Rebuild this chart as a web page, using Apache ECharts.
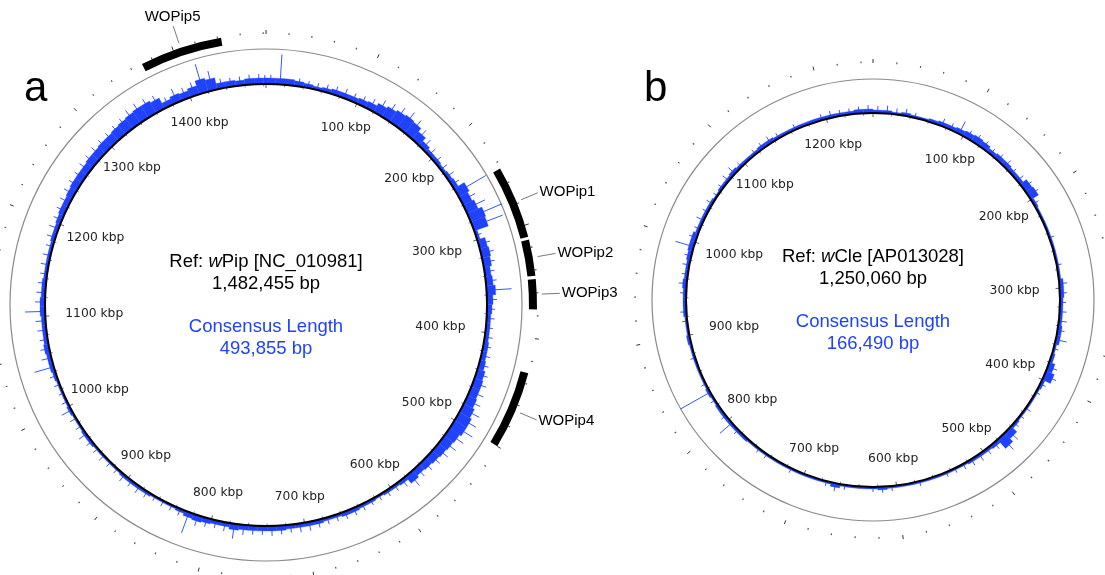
<!DOCTYPE html>
<html>
<head>
<meta charset="utf-8">
<script src="https://cdn.jsdelivr.net/npm/echarts@6/dist/echarts.min.js"></script>
<style>
html,body{margin:0;padding:0;background:#fff;}
#chart{width:1105px;height:575px;}
</style>
</head>
<body>
<div id="chart"></div>
<script>
// ---------------- DATA ----------------
const genomeLenA = 1482455;   // wPip [NC_010981]
const genomeLenB = 1250060;   // wCle [AP013028]
const binBp = 10000;          // coverage bin size (bp)

// coverage (fill level) and peak per 10 kbp bin, panel a (wPip)
const coverageA = [
  6,6,6,5,4,3,4,5,5,5,
  6,7,10,12,14,15,14,10,6,4,
  4,3,4,5,12,10,12,16,15,3,
  8,9,8,6,7,9,6,5,4,4,
  4,5,5,6,8,9,9,10,12,14,
  14,12,11,10,9,8,7,9,4,3,
  3,2,3,3,4,4,3,3,4,4,
  4,4,5,5,5,5,5,6,4,4,
  5,6,5,3,2,2,2,3,3,3,
  3,2,2,2,2,3,3,2,2,3,
  2,2,2,3,4,4,5,4,4,4,
  5,5,4,4,3,3,3,3,4,4,
  5,6,6,7,8,8,8,9,9,10,
  10,11,12,13,14,14,12,6,8,7,
  9,14,12,6,6,5,6,6,6
];
const peakA = [
  9,30,8,8,7,7,8,9,10,9,
  10,12,16,18,20,22,20,16,12,9,
  8,8,9,9,34,16,22,36,32,6,
  12,13,12,10,11,25,10,8,8,7,
  8,8,9,10,12,14,15,16,20,22,
  24,20,18,16,14,13,12,16,9,7,
  7,6,6,7,8,8,7,7,8,9,
  9,8,9,10,9,9,10,15,9,8,
  9,11,22,7,6,6,5,7,8,7,
  8,6,6,7,6,7,9,6,7,11,
  6,5,6,7,20,10,9,8,9,10,
  20,10,9,8,7,8,8,7,9,10,
  9,10,11,12,12,12,13,13,14,14,
  14,15,16,19,20,19,17,10,15,12,
  14,30,20,10,9,9,10,10,9
];

// coverage (fill level) and peak per 10 kbp bin, panel b (wCle)
const coverageB = [
  3,3,2,3,2,2,3,4,4,5,
  6,7,6,4,5,5,4,4,8,9,
  3,2,2,2,2,2,2,2,2,4,
  4,3,3,3,4,4,2,3,6,9,
  3,2,2,2,2,3,8,12,4,3,
  3,3,2,2,2,2,2,2,2,2,
  2,3,2,2,2,2,4,2,2,2,
  2,2,2,2,2,2,2,3,3,3,
  3,3,2,3,2,2,2,2,2,3,
  2,2,3,3,3,4,3,3,4,5,
  5,3,3,3,3,2,3,3,4,3,
  3,3,4,4,3,3,3,3,3,3,
  3,3,3,4,4
];
const peakB = [
  7,8,6,7,5,4,5,8,7,14,
  9,10,9,7,8,9,7,8,11,12,
  6,4,4,4,5,4,4,5,4,8,
  7,6,7,8,7,11,5,5,10,13,
  6,5,4,6,5,6,14,18,8,7,
  8,7,6,5,5,4,4,5,4,4,
  5,6,5,4,4,5,8,5,4,4,
  4,5,4,4,5,5,4,5,6,16,
  6,5,5,34,5,4,4,5,4,5,
  4,5,6,5,6,8,6,7,7,19,
  8,6,8,6,7,5,6,8,9,6,
  5,6,7,8,6,5,6,5,5,6,
  7,6,6,7,8
];

// backbone tick labels (kbp)
const tickKbpA = [100,200,300,400,500,600,700,800,900,1000,1100,1200,1300,1400];
const tickKbpB = [100,200,300,400,500,600,700,800,900,1000,1100,1200];

// prophage regions on wPip (bp)
const prophageNames = ['WOPip1','WOPip2','WOPip3','WOPip4','WOPip5'];
const prophageStart = [246000, 313000, 348000, 430700, 1370300];
const prophageEnd   = [310500, 345000, 374500, 500000, 1443100];

// centre texts
const refA = {pre:'Ref: ', it:'w', post:'Pip [NC_010981]', size:'1,482,455 bp', cons:'493,855 bp'};
const refB = {pre:'Ref: ', it:'w', post:'Cle [AP013028]', size:'1,250,060 bp', cons:'166,490 bp'};

// ---------------- STYLE / LAYOUT ----------------
const BLUE = '#1f42ff';
const centerA = [266, 305], centerB = [873, 300];
const TICK_FONT = '12.3px "DejaVu Sans"';
const SANS = '"Liberation Sans", Arial, sans-serif';

const mctx = document.createElement('canvas').getContext('2d');
function textWidth(t, font){ mctx.font = font; return mctx.measureText(t).width; }

function angOf(cs, p){ return Math.atan2(p[1]-cs.cy, p[0]-cs.cx); }
function distOf(cs, p){ return Math.hypot(p[0]-cs.cx, p[1]-cs.cy); }

function coverageItem(params, api){
  const cs = params.coordSys;
  const fill = api.value(0), s = api.value(1), e = api.value(2), pk = api.value(3);
  const ps = api.coord([0, s]), pe = api.coord([0, e]);
  const a0 = angOf(cs, ps); let a1 = angOf(cs, pe);
  if (a1 < a0) a1 += Math.PI*2;
  const rf = distOf(cs, api.coord([fill, s]));
  const mid = (s+e)/2;
  const m0 = api.coord([0, mid]), m1 = api.coord([pk, mid]);
  const children = [
    {type:'sector', shape:{cx:cs.cx, cy:cs.cy, r0:cs.r0, r:rf, startAngle:a0, endAngle:a1, clockwise:true},
     style:{fill:BLUE, stroke:BLUE, lineWidth:0.3}}
  ];
  if (pk > fill + 2){
    children.push({type:'line', shape:{x1:m0[0], y1:m0[1], x2:m1[0], y2:m1[1]}, style:{stroke:BLUE, lineWidth:0.9}});
  }
  return {type:'group', children:children};
}

function tickLabelItem(params, api){
  const cs = params.coordSys;
  const v = api.value(1);
  const p = api.coord([1, v]);
  const dx = p[0]-cs.cx, dy = p[1]-cs.cy, r = Math.hypot(dx, dy);
  const ux = dx/r, uy = dy/r;
  const text = (v/1000) + ' kbp';
  const hw = textWidth(text, TICK_FONT)/2, hh = 6.5;
  const t = Math.min(Math.abs(ux) > 1e-6 ? hw/Math.abs(ux) : 1e9, Math.abs(uy) > 1e-6 ? hh/Math.abs(uy) : 1e9);
  const rc = r - 20 - t;
  return {type:'text', x: cs.cx + ux*rc, y: cs.cy + uy*rc,
    style:{text:text, fill:'#222', font:TICK_FONT, align:'center', verticalAlign:'middle'}};
}

function prophageItem(params, api){
  const cs = params.coordSys;
  const s = api.value(1), e = api.value(2);
  const ps = api.coord([0, s]), pe = api.coord([0, e]);
  const a0 = angOf(cs, ps); let a1 = angOf(cs, pe);
  if (a1 < a0) a1 += Math.PI*2;
  const pm = api.coord([1, (s+e)/2]);
  const dx = pm[0]-cs.cx, dy = pm[1]-cs.cy, r = Math.hypot(dx, dy);
  const ux = dx/r, uy = dy/r;
  const r1 = cs.r + 5, r2 = cs.r + 23;
  let align, valign, off = 2;
  if (Math.abs(ux) > 0.5){ align = ux > 0 ? 'left' : 'right'; valign = 'middle'; }
  else { align = 'center'; valign = uy < 0 ? 'bottom' : 'top'; }
  return {type:'group', children:[
    {type:'sector', shape:{cx:cs.cx, cy:cs.cy, r0:cs.r0, r:cs.r, startAngle:a0, endAngle:a1, clockwise:true},
     style:{fill:'#000'}},
    {type:'line', shape:{x1:cs.cx+ux*r1, y1:cs.cy+uy*r1, x2:cs.cx+ux*r2, y2:cs.cy+uy*r2},
     style:{stroke:'#555', lineWidth:0.8}},
    {type:'text', x:cs.cx+ux*(r2+off), y:cs.cy+uy*(r2+off),
     style:{text:prophageNames[params.dataIndex], fill:'#000', font:'15px '+SANS, align:align, verticalAlign:valign}}
  ]};
}

// ---------------- BUILD ----------------
function bins(cov, peak, len){
  return cov.map((f, i) => [f, i*binBp, Math.min((i+1)*binBp, len), peak[i]]);
}

const polars = [
  {center:centerA, radius:221},          // 0 backbone a
  {center:centerA, radius:[221, 301]},   // 1 coverage a
  {center:centerA, radius:256},          // 2 grey ring a
  {center:centerA, radius:[263, 271]},   // 3 prophage arcs a
  {center:centerA, radius:271},          // 4 outer ruler a
  {center:centerB, radius:187},          // 5 backbone b
  {center:centerB, radius:[187, 267]},   // 6 coverage b
  {center:centerB, radius:221},          // 7 grey ring b
  {center:centerB, radius:237}           // 8 outer ruler b
];
const lens = [genomeLenA,genomeLenA,genomeLenA,genomeLenA,genomeLenA,genomeLenB,genomeLenB,genomeLenB,genomeLenB];
const radMax = [1, 80, 1, 1, 1, 1, 80, 1, 1];

function baseAngle(i){
  return {polarIndex:i, type:'value', min:0, max:lens[i], startAngle:90, clockwise:true, interval:100000,
    axisLine:{show:false}, axisTick:{show:false}, axisLabel:{show:false}, splitLine:{show:false},
    minorTick:{show:false}, minorSplitLine:{show:false}, silent:true};
}
const angleAxes = polars.map((p, i) => {
  const a = baseAngle(i);
  if (i === 0 || i === 5){
    a.z = 5;
    a.axisLine = {show:true, lineStyle:{color:'#000', width:2}};
    a.axisTick = {show:true, inside:false, length:-4, lineStyle:{color:'#333', width:0.8}};
    a.minorTick = {show:true, splitNumber:5, length:-2.5, lineStyle:{color:'#555', width:0.7}};
  } else if (i === 2 || i === 7){
    a.axisLine = {show:true, lineStyle:{color:'#8a8a8a', width:1.2}};
  } else if (i === 4 || i === 8){
    a.axisTick = {show:true, length:4, lineStyle:{color:'#333', width:1}};
    a.minorTick = {show:true, splitNumber:5, length:1.8, lineStyle:{color:'#555', width:1.2}};
  }
  return a;
});
const radiusAxes = polars.map((p, i) => ({polarIndex:i, type:'value', min:0, max:radMax[i], show:false,
  axisLine:{show:false}, axisTick:{show:false}, axisLabel:{show:false}, splitLine:{show:false}}));

const series = [
  {type:'custom', coordinateSystem:'polar', polarIndex:1, renderItem:coverageItem, data:bins(coverageA, peakA, genomeLenA), silent:true},
  {type:'custom', coordinateSystem:'polar', polarIndex:6, renderItem:coverageItem, data:bins(coverageB, peakB, genomeLenB), silent:true},
  {type:'custom', coordinateSystem:'polar', polarIndex:0, renderItem:tickLabelItem, data:tickKbpA.map(k => [1, k*1000]), silent:true},
  {type:'custom', coordinateSystem:'polar', polarIndex:5, renderItem:tickLabelItem, data:tickKbpB.map(k => [1, k*1000]), silent:true},
  {type:'custom', coordinateSystem:'polar', polarIndex:3, renderItem:prophageItem,
   data:prophageStart.map((s, i) => [0, s, prophageEnd[i]]), silent:true}
];

function centreTexts(c, ref){
  const f = 18.5;
  const rich = {
    n:{fontSize:f, fontFamily:SANS, fill:'#000'},
    i:{fontSize:f, fontFamily:SANS, fontStyle:'italic', fill:'#000'}
  };
  return [
    {type:'text', x:c[0], y:c[1]-43, style:{text:'{n|'+ref.pre+'}{i|'+ref.it+'}{n|'+ref.post+'}', rich:rich, align:'center', verticalAlign:'middle'}},
    {type:'text', x:c[0], y:c[1]-21, style:{text:ref.size, font:f+'px '+SANS, fill:'#000', align:'center', verticalAlign:'middle'}},
    {type:'text', x:c[0], y:c[1]+22, style:{text:'Consensus Length', font:f+'px '+SANS, fill:BLUE, align:'center', verticalAlign:'middle'}},
    {type:'text', x:c[0], y:c[1]+44, style:{text:ref.cons, font:f+'px '+SANS, fill:BLUE, align:'center', verticalAlign:'middle'}}
  ];
}

const graphic = [
  {type:'text', x:24, y:89, style:{text:'a', font:'42px '+SANS, fill:'#000', align:'left', verticalAlign:'middle'}},
  {type:'text', x:644, y:89, style:{text:'b', font:'42px '+SANS, fill:'#000', align:'left', verticalAlign:'middle'}}
].concat(centreTexts(centerA, refA), centreTexts(centerB, refB));

const chart = echarts.init(document.getElementById('chart'), null, {renderer:'canvas'});
chart.setOption({
  backgroundColor:'#fff',
  animation:false,
  polar:polars,
  angleAxis:angleAxes,
  radiusAxis:radiusAxes,
  series:series,
  graphic:graphic
});
</script>
</body>
</html>
